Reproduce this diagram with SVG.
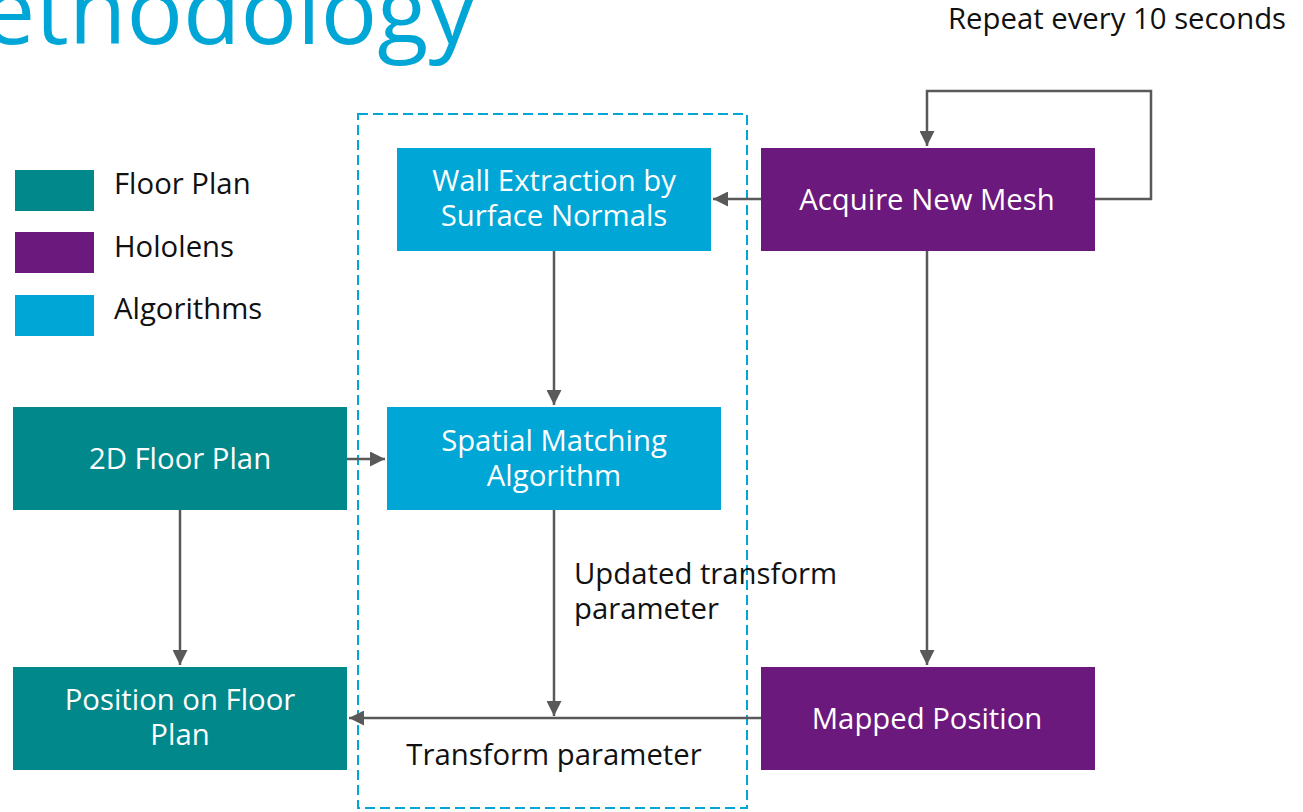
<svg xmlns="http://www.w3.org/2000/svg" width="1303" height="812" viewBox="0 0 1303 812">
  <style>
    text { font-family: "Open Sans", "Noto Sans", "DejaVu Sans", sans-serif; font-size: 29.3px; }
    .lbl { fill: #111111; }
    .nt { fill: #ffffff; text-anchor: middle; }
    .floor { fill: #00888A; }
    .holo { fill: #6C197D; }
    .algo { fill: #00A6D6; }
    .conn { fill: none; stroke: #595959; stroke-width: 2.5; }
    .title { fill: #00A6D6; font-size: 94px; }
  </style>
  <defs>
    <marker id="arrow" viewBox="0 0 10 10" refX="10" refY="5" markerWidth="6" markerHeight="6" markerUnits="strokeWidth" orient="auto">
      <path d="M0,0 L10,5 L0,10 Z" fill="#595959"/>
    </marker>
  </defs>

  <rect width="1303" height="812" fill="#ffffff"/>

  <!-- heading -->
  <text class="title" x="-102" y="44">Methodology</text>
  <text class="lbl" x="948" y="29">Repeat every 10 seconds</text>

  <!-- legend -->
  <g id="legend">
    <rect class="floor" x="15" y="170" width="79" height="41"/>
    <text class="lbl" x="114" y="194">Floor Plan</text>
    <rect class="holo" x="15" y="232" width="79" height="41"/>
    <text class="lbl" x="114" y="257">Hololens</text>
    <rect class="algo" x="15" y="295" width="79" height="41"/>
    <text class="lbl" x="114" y="319">Algorithms</text>
  </g>

  <!-- algorithm region -->
  <rect id="algorithm-region" x="358" y="114" width="389" height="694" fill="none" stroke="#00A6D6" stroke-width="2" stroke-dasharray="10 5"/>

  <!-- connectors -->
  <g id="connectors">
    <path class="conn" d="M1095,199 H1151 V91 H927 V146" marker-end="url(#arrow)"/>
    <path class="conn" d="M761,199 H713" marker-end="url(#arrow)"/>
    <path class="conn" d="M554,251 V405" marker-end="url(#arrow)"/>
    <path class="conn" d="M347,459 H385" marker-end="url(#arrow)"/>
    <path class="conn" d="M180,510 V665" marker-end="url(#arrow)"/>
    <path class="conn" d="M927,251 V665" marker-end="url(#arrow)"/>
    <path class="conn" d="M761,718 H349" marker-end="url(#arrow)"/>
    <path class="conn" d="M554,510 V716" marker-end="url(#arrow)"/>
    <text class="lbl" x="574" y="584">Updated transform</text>
    <text class="lbl" x="574" y="619">parameter</text>
    <text class="lbl" x="554" y="765" text-anchor="middle">Transform parameter</text>
  </g>

  <!-- nodes -->
  <g id="wall-extraction">
    <rect class="algo" x="397" y="148" width="314" height="103"/>
    <text class="nt" x="554" y="191">Wall Extraction by</text>
    <text class="nt" x="554" y="226">Surface Normals</text>
  </g>
  <g id="acquire-mesh">
    <rect class="holo" x="761" y="148" width="334" height="103"/>
    <text class="nt" x="927" y="210">Acquire New Mesh</text>
  </g>
  <g id="spatial-matching">
    <rect class="algo" x="387" y="407" width="334" height="103"/>
    <text class="nt" x="554" y="451">Spatial Matching</text>
    <text class="nt" x="554" y="486">Algorithm</text>
  </g>
  <g id="floor-plan-2d">
    <rect class="floor" x="13" y="407" width="334" height="103"/>
    <text class="nt" x="180" y="469">2D Floor Plan</text>
  </g>
  <g id="position-on-floor-plan">
    <rect class="floor" x="13" y="667" width="334" height="103"/>
    <text class="nt" x="180" y="710">Position on Floor</text>
    <text class="nt" x="180" y="745">Plan</text>
  </g>
  <g id="mapped-position">
    <rect class="holo" x="761" y="667" width="334" height="103"/>
    <text class="nt" x="927" y="729">Mapped Position</text>
  </g>
</svg>
